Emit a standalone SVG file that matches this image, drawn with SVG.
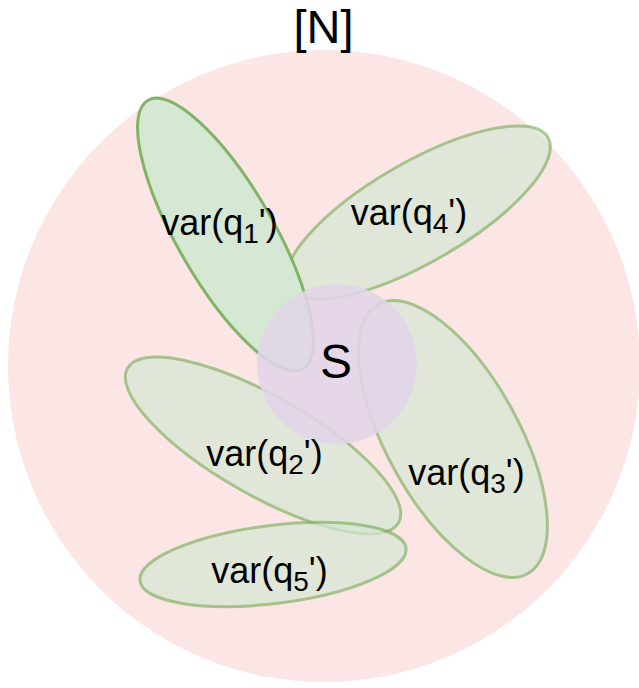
<svg xmlns="http://www.w3.org/2000/svg" width="639" height="688" viewBox="0 0 639 688">
<style>
text{font-family:"Liberation Sans",Arial,Helvetica,sans-serif;fill:#000;text-anchor:middle}
.lbl{font-size:36px}
.big{font-size:48px}
.q{fill:#d5e8d4;stroke:#82b366;stroke-width:3}
.qt{opacity:0.7}
</style>
<rect width="639" height="688" fill="#ffffff"/>
<g id="N">
<circle cx="324" cy="366" r="316" fill="#f8cecc" opacity="0.5"/>
<text x="323.5" y="42.5" style="font-size:47px">[N]</text>
</g>
<g id="q4">
<ellipse class="q qt" cx="418" cy="212.5" rx="150" ry="50" transform="rotate(-30 418 212.5)"/>
</g>
<g id="q1">
<ellipse class="q" cx="225.5" cy="234.5" rx="155" ry="48" transform="rotate(60 225.5 234.5)"/>
</g>
<g id="q3">
<ellipse class="q qt" cx="453" cy="439" rx="154" ry="66" transform="rotate(61 453 439)"/>
</g>
<g id="q2">
<ellipse class="q qt" cx="263" cy="445.5" rx="156" ry="49.5" transform="rotate(29.7 263 445.5)"/>
</g>
<g id="q5">
<ellipse class="q qt" cx="273" cy="564.5" rx="134" ry="39" transform="rotate(-7 273 564.5)"/>
</g>
<g id="S">
<circle cx="337" cy="364" r="80" fill="#e1d5e7" opacity="0.88"/>
<text class="big" x="336" y="378">S</text>
</g>
<g id="labels">
<text class="lbl" x="219.5" y="235">var(q<tspan font-size="28" dy="8">1</tspan><tspan dy="-8">')</tspan></text>
<text class="lbl" x="409" y="225">var(q<tspan font-size="28" dy="8">4</tspan><tspan dy="-8">')</tspan></text>
<text class="lbl" x="264.5" y="466">var(q<tspan font-size="28" dy="8">2</tspan><tspan dy="-8">')</tspan></text>
<text class="lbl" x="466.5" y="485">var(q<tspan font-size="28" dy="8">3</tspan><tspan dy="-8">')</tspan></text>
<text class="lbl" x="269.5" y="583">var(q<tspan font-size="28" dy="8">5</tspan><tspan dy="-8">')</tspan></text>
</g>
<g id="connectors"></g>
</svg>
